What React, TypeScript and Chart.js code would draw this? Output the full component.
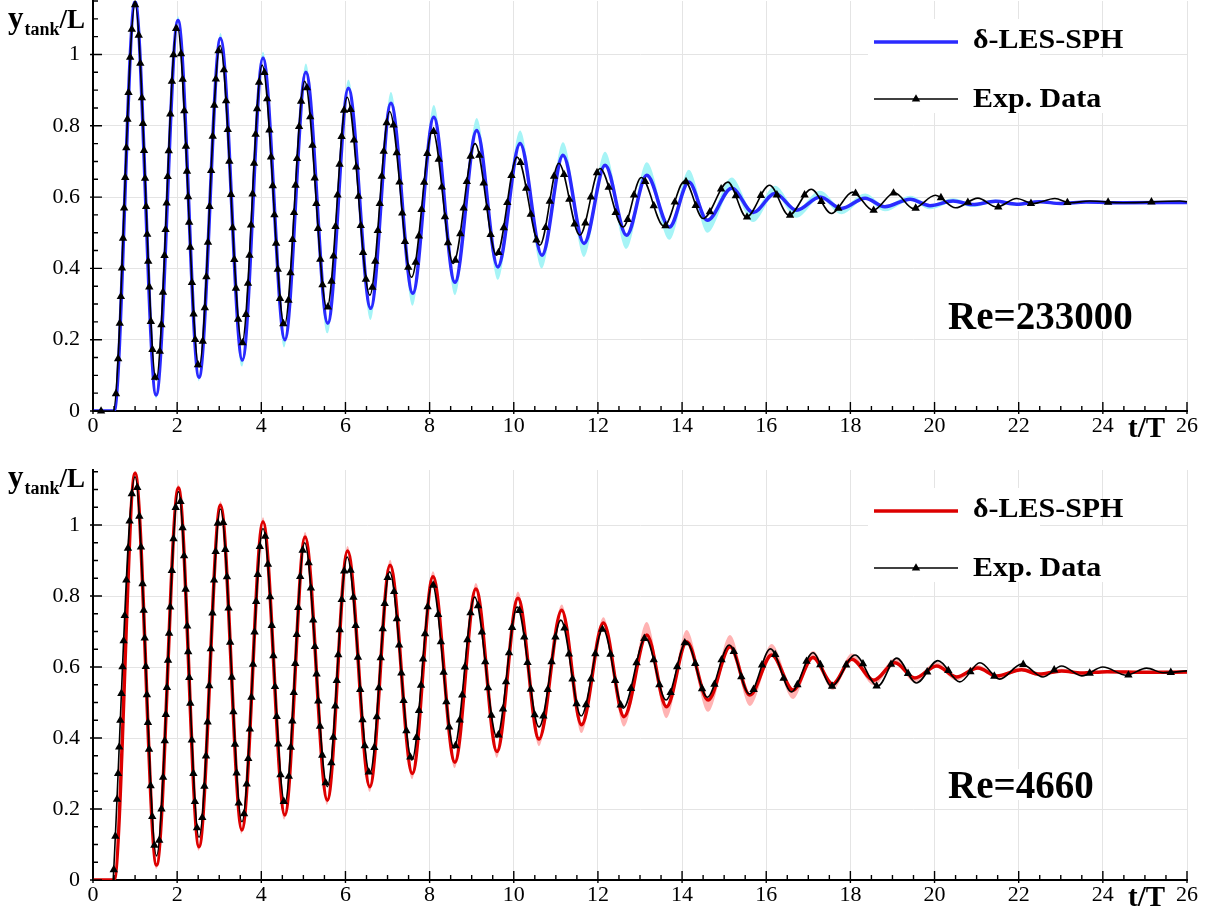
import React, { useEffect, useRef } from 'react';
import { Chart, registerables } from 'chart.js';

Chart.register(...registerables);

const SERIF = '"Liberation Serif", "Times New Roman", Times, serif';

// Axis ticks
const xTickValues = [0, 2, 4, 6, 8, 10, 12, 14, 16, 18, 20, 22, 24, 26];
const yTickValues = [0, 0.2, 0.4, 0.6, 0.8, 1];
const X_MINOR_STEP = 0.5;
const Y_MINOR_STEP = 0.05;

// ---- Re = 233000 : free-surface tank position, extrema of each swing ----
const lesTimeA = [0, 0.5, 1.0, 1.5, 2.02, 2.52, 3.03, 3.55, 4.04, 4.56, 5.06, 5.58, 6.07, 6.6, 7.08, 7.6, 8.1, 8.6, 9.12, 9.62, 10.15, 10.67, 11.17, 11.67, 12.17, 12.68, 13.16, 13.7, 14.16, 14.6, 15.18, 15.69, 16.21, 16.72, 17.28, 17.79, 18.35, 18.82, 19.42, 19.89, 20.44, 20.9, 21.45, 21.95, 22.5, 23.0, 23.6, 24.5, 26];
const lesValueA = [0, 0, 1.148, 0.045, 1.095, 0.095, 1.045, 0.143, 0.99, 0.2, 0.95, 0.246, 0.905, 0.288, 0.863, 0.33, 0.824, 0.361, 0.787, 0.404, 0.75, 0.437, 0.717, 0.47, 0.689, 0.493, 0.661, 0.516, 0.642, 0.535, 0.625, 0.557, 0.61, 0.563, 0.6, 0.568, 0.597, 0.573, 0.594, 0.576, 0.589, 0.579, 0.588, 0.58, 0.587, 0.582, 0.586, 0.584, 0.585];
const lesBandHiA = [0, 0, 1.156, 0.05, 1.107, 0.1, 1.06, 0.148, 1.008, 0.205, 0.975, 0.251, 0.93, 0.293, 0.895, 0.335, 0.858, 0.366, 0.822, 0.409, 0.787, 0.442, 0.754, 0.475, 0.727, 0.498, 0.698, 0.521, 0.677, 0.54, 0.655, 0.562, 0.632, 0.567, 0.618, 0.572, 0.61, 0.577, 0.604, 0.58, 0.597, 0.583, 0.593, 0.583, 0.591, 0.585, 0.589, 0.587, 0.588];
const lesBandLoA = [0, 0, 1.143, 0.035, 1.09, 0.083, 1.04, 0.125, 0.985, 0.178, 0.945, 0.218, 0.9, 0.255, 0.858, 0.295, 0.819, 0.325, 0.782, 0.368, 0.745, 0.4, 0.712, 0.432, 0.684, 0.455, 0.656, 0.48, 0.637, 0.5, 0.62, 0.53, 0.606, 0.542, 0.596, 0.552, 0.593, 0.56, 0.59, 0.566, 0.585, 0.572, 0.585, 0.575, 0.584, 0.578, 0.583, 0.581, 0.582];
const expTimeA = [0, 0.48, 1.0, 1.5, 2.0, 2.52, 3.02, 3.54, 4.02, 4.55, 5.03, 5.56, 6.04, 6.58, 7.05, 7.57, 8.07, 8.56, 9.08, 9.59, 10.08, 10.62, 11.07, 11.57, 12.05, 12.6, 13.03, 13.57, 14.06, 14.5, 15.09, 15.53, 16.08, 16.54, 17.07, 17.55, 18.05, 18.54, 19.05, 19.5, 20.02, 20.5, 21.03, 21.48, 21.95, 22.34, 22.86, 23.22, 23.69, 24.48, 25.83, 26];
const expValueA = [0, 0, 1.14, 0.087, 1.08, 0.123, 1.025, 0.19, 0.97, 0.24, 0.925, 0.288, 0.88, 0.325, 0.84, 0.375, 0.787, 0.414, 0.75, 0.437, 0.712, 0.465, 0.695, 0.493, 0.68, 0.516, 0.655, 0.518, 0.645, 0.54, 0.642, 0.544, 0.633, 0.549, 0.622, 0.554, 0.614, 0.563, 0.612, 0.568, 0.605, 0.57, 0.597, 0.572, 0.596, 0.582, 0.596, 0.584, 0.589, 0.584, 0.589, 0.587];

// ---- Re = 4660 ----
const lesTimeB = [0, 0.5, 1.0, 1.51, 2.03, 2.52, 3.03, 3.54, 4.04, 4.56, 5.04, 5.57, 6.05, 6.58, 7.06, 7.59, 8.08, 8.6, 9.1, 9.6, 10.1, 10.6, 11.14, 11.61, 12.13, 12.62, 13.16, 13.63, 14.11, 14.62, 15.14, 15.61, 16.13, 16.64, 17.11, 17.58, 18.03, 18.56, 19.06, 19.53, 20.05, 20.52, 21.03, 21.48, 22.07, 22.49, 23.02, 23.5, 24.1, 25, 26];
const lesValueB = [0, 0, 1.146, 0.042, 1.104, 0.094, 1.056, 0.141, 1.009, 0.183, 0.966, 0.225, 0.927, 0.263, 0.887, 0.3, 0.854, 0.332, 0.82, 0.362, 0.794, 0.397, 0.76, 0.437, 0.724, 0.46, 0.69, 0.488, 0.671, 0.507, 0.657, 0.521, 0.634, 0.535, 0.627, 0.552, 0.622, 0.563, 0.612, 0.569, 0.603, 0.572, 0.597, 0.575, 0.592, 0.58, 0.589, 0.583, 0.587, 0.585, 0.586];
const lesBandHiB = [0, 0, 1.153, 0.047, 1.114, 0.099, 1.067, 0.146, 1.022, 0.188, 0.98, 0.23, 0.941, 0.268, 0.902, 0.305, 0.87, 0.337, 0.837, 0.367, 0.813, 0.402, 0.776, 0.442, 0.74, 0.465, 0.727, 0.493, 0.704, 0.512, 0.69, 0.526, 0.665, 0.54, 0.645, 0.556, 0.638, 0.567, 0.625, 0.573, 0.614, 0.576, 0.606, 0.578, 0.599, 0.583, 0.595, 0.586, 0.591, 0.589, 0.59];
const lesBandLoB = [0, 0, 1.141, 0.032, 1.099, 0.083, 1.051, 0.129, 1.004, 0.17, 0.961, 0.211, 0.922, 0.248, 0.882, 0.284, 0.849, 0.315, 0.815, 0.344, 0.789, 0.377, 0.755, 0.414, 0.719, 0.432, 0.685, 0.456, 0.666, 0.474, 0.652, 0.49, 0.629, 0.51, 0.622, 0.535, 0.618, 0.548, 0.608, 0.557, 0.6, 0.562, 0.594, 0.567, 0.589, 0.574, 0.586, 0.578, 0.584, 0.581, 0.582];
const expTimeB = [0.48, 1.0, 1.51, 2.03, 2.52, 3.03, 3.54, 4.04, 4.56, 5.03, 5.57, 6.04, 6.58, 7.05, 7.58, 8.06, 8.58, 9.07, 9.6, 10.08, 10.6, 11.12, 11.6, 12.12, 12.6, 13.13, 13.62, 14.1, 14.6, 15.12, 15.6, 16.1, 16.6, 17.11, 17.55, 18.11, 18.65, 19.1, 19.57, 20.08, 20.6, 21.08, 21.55, 22.07, 22.58, 23.02, 23.5, 24.0, 24.56, 25.04, 25.43, 26];
const expValueB = [0, 1.136, 0.068, 1.094, 0.12, 1.045, 0.164, 0.99, 0.216, 0.95, 0.263, 0.91, 0.3, 0.868, 0.338, 0.834, 0.372, 0.797, 0.403, 0.769, 0.431, 0.732, 0.462, 0.707, 0.484, 0.682, 0.507, 0.671, 0.515, 0.662, 0.524, 0.651, 0.53, 0.64, 0.546, 0.634, 0.546, 0.625, 0.555, 0.618, 0.558, 0.612, 0.566, 0.608, 0.572, 0.603, 0.575, 0.6, 0.577, 0.597, 0.584, 0.589];

type Series = { t: number[]; y: number[] };

const toPoints = (t: number[], y: number[]) => t.map((v, i) => ({ x: v, y: y[i] }));

// Small filled triangle used as the experimental-data symbol
function triangle(ctx: CanvasRenderingContext2D, x: number, y: number) {
  ctx.beginPath();
  ctx.moveTo(x, y - 4.8);
  ctx.lineTo(x + 4.2, y + 2.6);
  ctx.lineTo(x - 4.2, y + 2.6);
  ctx.closePath();
  ctx.fill();
}

// Symbols placed along the drawn curve at a fixed path distance
function drawPathSymbols(chart: any, datasetIndex: number, startOffset: number) {
  const ctx: CanvasRenderingContext2D = chart.ctx;
  const pts: any[] = chart.getDatasetMeta(datasetIndex).data;
  if (!pts.length) return;
  const spacing = (x: number) => (x < 850 ? 25 : 25 + (x - 850) * 0.07);
  let travelled = 0;
  let next = startOffset;
  let px = pts[0].x;
  let py = pts[0].y;
  ctx.save();
  ctx.fillStyle = '#000';
  for (let i = 0; i < pts.length - 1; i++) {
    const a = pts[i];
    const b = pts[i + 1];
    const c1x = a.cp2x ?? a.x, c1y = a.cp2y ?? a.y;
    const c2x = b.cp1x ?? b.x, c2y = b.cp1y ?? b.y;
    const steps = 40;
    for (let s = 1; s <= steps; s++) {
      const u = s / steps;
      const m = 1 - u;
      const x = m * m * m * a.x + 3 * m * m * u * c1x + 3 * m * u * u * c2x + u * u * u * b.x;
      const y = m * m * m * a.y + 3 * m * m * u * c1y + 3 * m * u * u * c2y + u * u * u * b.y;
      travelled += Math.hypot(x - px, y - py);
      px = x;
      py = y;
      if (travelled >= next) {
        triangle(ctx, x, y);
        next = travelled + spacing(x);
      }
    }
  }
  ctx.restore();
}

// Text drawn slightly widened, as in the legend entries
function wideText(ctx: CanvasRenderingContext2D, text: string, x: number, y: number, stretch: number) {
  ctx.save();
  ctx.translate(x, y);
  ctx.scale(stretch, 1);
  ctx.fillText(text, 0, 0);
  ctx.restore();
}

const decorPlugin = {
  id: 'decor',
  afterDraw(chart: any, _args: any, opts: any) {
    const ctx: CanvasRenderingContext2D = chart.ctx;
    const area = chart.chartArea;
    const xs = chart.scales.x;
    const ys = chart.scales.y;
    ctx.save();

    // inward ticks, major and minor
    ctx.strokeStyle = '#000';
    ctx.lineWidth = 1.4;
    ctx.beginPath();
    for (let i = 0; i * X_MINOR_STEP <= 26 + 1e-9; i++) {
      const px = xs.getPixelForValue(i * X_MINOR_STEP);
      const major = i % 4 === 0;
      ctx.moveTo(px, area.bottom + (major ? 3 : 0));
      ctx.lineTo(px, area.bottom - (major ? 9 : 5));
    }
    for (let i = 0; i * Y_MINOR_STEP <= opts.yMax + 1e-9; i++) {
      const py = ys.getPixelForValue(i * Y_MINOR_STEP);
      const major = i % 4 === 0;
      ctx.moveTo(area.left - (major ? 3 : 0), py);
      ctx.lineTo(area.left + (major ? 9 : 5), py);
    }
    ctx.stroke();
    ctx.restore();

    // experimental symbols
    drawPathSymbols(chart, 0, opts.symbolStart);

    ctx.save();
    // legend
    const r = area.right;
    ctx.fillStyle = '#fff';
    ctx.fillRect(r - 319, area.top + 18, 172, 94);
    ctx.fillRect(r - 147, area.top + 56, 88, 56);
    ctx.lineCap = 'butt';
    ctx.strokeStyle = opts.color;
    ctx.lineWidth = 3.5;
    ctx.beginPath();
    ctx.moveTo(r - 313, area.top + 41);
    ctx.lineTo(r - 229, area.top + 41);
    ctx.stroke();
    ctx.strokeStyle = '#000';
    ctx.lineWidth = 1.6;
    ctx.beginPath();
    ctx.moveTo(r - 313, area.top + 98);
    ctx.lineTo(r - 229, area.top + 98);
    ctx.stroke();
    ctx.fillStyle = '#000';
    triangle(ctx, r - 271, area.top + 98);
    ctx.font = `bold 28px ${SERIF}`;
    ctx.textBaseline = 'alphabetic';
    ctx.textAlign = 'left';
    wideText(ctx, '\u03b4-LES-SPH', r - 214, area.top + 46.5, 1.07);
    wideText(ctx, 'Exp. Data', r - 214, area.top + 106, 1.07);

    // Reynolds number label
    ctx.font = `bold 39px ${SERIF}`;
    const reX = r - 239;
    const reY = area.top + 328;
    const w = ctx.measureText(opts.reLabel).width;
    ctx.fillStyle = '#fff';
    ctx.fillRect(reX - 2, reY - 29, w + 4, 31);
    ctx.fillStyle = '#000';
    ctx.fillText(opts.reLabel, reX, reY);

    // axis titles
    let x = 8;
    const by = opts.titleBaseline;
    ctx.font = `bold 31px ${SERIF}`;
    ctx.fillText('y', x, by);
    x += ctx.measureText('y').width + 1;
    ctx.font = `bold 18px ${SERIF}`;
    ctx.fillText('tank', x, by + 7);
    x += ctx.measureText('tank').width;
    ctx.font = `bold 27px ${SERIF}`;
    ctx.fillText('/L', x, by);

    ctx.font = `bold 29px ${SERIF}`;
    ctx.fillText('t/T', 1128, area.bottom + 26);
    ctx.restore();
  },
};

type PanelSpec = {
  top: number;
  height: number;
  chartTop: number;
  chartBottom: number;
  yMax: number;
  color: string;
  bandColor: string;
  les: Series;
  bandHi: number[];
  bandLo: number[];
  exp: Series;
  reLabel: string;
  symbolStart: number;
  titleBaseline: number;
};

function Panel({ spec }: { spec: PanelSpec }) {
  const ref = useRef<HTMLCanvasElement>(null);
  useEffect(() => {
    const axisHeight = spec.height - spec.chartBottom;
    const zeroPadding = (s: any) => {
      s.paddingTop = 0;
      s.paddingBottom = 0;
      s.paddingLeft = 0;
      s.paddingRight = 0;
    };
    const chart = new Chart(ref.current as HTMLCanvasElement, {
      type: 'line',
      data: {
        datasets: [
          {
            label: 'Exp. Data',
            data: toPoints(spec.exp.t, spec.exp.y),
            borderColor: '#000',
            borderWidth: 1.6,
            pointRadius: 0,
            cubicInterpolationMode: 'monotone',
            fill: false,
            order: 0,
          },
          {
            label: '\u03b4-LES-SPH',
            data: toPoints(spec.les.t, spec.les.y),
            borderColor: spec.color,
            borderWidth: 3.5,
            pointRadius: 0,
            cubicInterpolationMode: 'monotone',
            fill: false,
            order: 1,
          },
          {
            label: 'spread upper',
            data: toPoints(spec.les.t, spec.bandHi),
            borderColor: 'rgba(0,0,0,0)',
            borderWidth: 0,
            backgroundColor: spec.bandColor,
            pointRadius: 0,
            cubicInterpolationMode: 'monotone',
            fill: '+1',
            order: 2,
          },
          {
            label: 'spread lower',
            data: toPoints(spec.les.t, spec.bandLo),
            borderColor: 'rgba(0,0,0,0)',
            borderWidth: 0,
            pointRadius: 0,
            cubicInterpolationMode: 'monotone',
            fill: false,
            order: 3,
          },
        ],
      },
      options: {
        responsive: false,
        animation: false,
        events: [],
        layout: { padding: { left: 0, right: 28, top: spec.chartTop, bottom: 0 } },
        plugins: {
          legend: { display: false },
          tooltip: { enabled: false },
          decor: {
            yMax: spec.yMax,
            color: spec.color,
            reLabel: spec.reLabel,
            symbolStart: spec.symbolStart,
            titleBaseline: spec.titleBaseline,
          },
        } as any,
        scales: {
          x: {
            type: 'linear',
            min: 0,
            max: 26,
            afterBuildTicks: (s: any) => {
              s.ticks = xTickValues.map((v) => ({ value: v }));
            },
            afterFit: (s: any) => {
              s.height = axisHeight;
              zeroPadding(s);
            },
            ticks: {
              color: '#000',
              font: { family: SERIF, size: 22 },
              padding: 2,
              maxRotation: 0,
              autoSkip: false,
              callback: (v: any) => String(v),
            },
            grid: { color: '#e4e4e4', lineWidth: 1, drawTicks: false },
            border: { display: true, color: '#000', width: 2 },
          },
          y: {
            type: 'linear',
            min: 0,
            max: spec.yMax,
            afterBuildTicks: (s: any) => {
              s.ticks = yTickValues.map((v) => ({ value: v }));
            },
            afterFit: (s: any) => {
              s.width = 93;
              zeroPadding(s);
            },
            ticks: {
              color: '#000',
              font: { family: SERIF, size: 22 },
              padding: 13,
              autoSkip: false,
              callback: (v: any) => String(Math.round(Number(v) * 10) / 10),
            },
            grid: { color: '#e4e4e4', lineWidth: 1, drawTicks: false },
            border: { display: true, color: '#000', width: 2 },
          },
        },
      } as any,
      plugins: [decorPlugin],
    });
    return () => chart.destroy();
  }, [spec]);
  return (
    <canvas
      ref={ref}
      width={1215}
      height={spec.height}
      style={{ position: 'absolute', left: 0, top: spec.top, width: 1215, height: spec.height }}
    />
  );
}

const panelHigh: PanelSpec = {
  top: 0,
  height: 455,
  chartTop: 1,
  chartBottom: 411,
  yMax: 1.15,
  color: '#2a2aff',
  bandColor: '#a6f4f6',
  les: { t: lesTimeA, y: lesValueA },
  bandHi: lesBandHiA,
  bandLo: lesBandLoA,
  exp: { t: expTimeA, y: expValueA },
  reLabel: 'Re=233000',
  symbolStart: 8,
  titleBaseline: 28,
};

const panelLow: PanelSpec = {
  top: 455,
  height: 458,
  chartTop: 15,
  chartBottom: 425,
  yMax: 1.155,
  color: '#dd0000',
  bandColor: '#ffb3b3',
  les: { t: lesTimeB, y: lesValueB },
  bandHi: lesBandHiB,
  bandLo: lesBandLoB,
  exp: { t: expTimeB, y: expValueB },
  reLabel: 'Re=4660',
  symbolStart: 4,
  titleBaseline: 32,
};

export default function App() {
  return (
    <div style={{ position: 'absolute', left: 0, top: 0, width: 1215, height: 913, background: '#fff', overflow: 'hidden' }}>
      <Panel spec={panelHigh} />
      <Panel spec={panelLow} />
    </div>
  );
}
